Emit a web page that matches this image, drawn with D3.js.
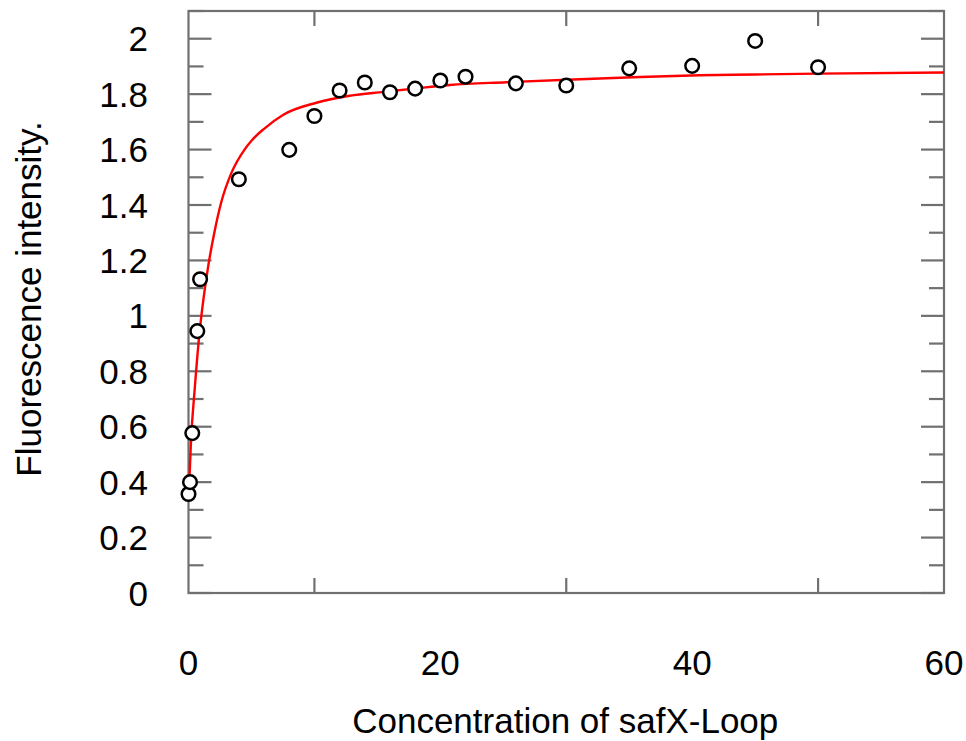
<!DOCTYPE html>
<html>
<head>
<meta charset="utf-8">
<script src="https://cdn.jsdelivr.net/npm/d3@7/dist/d3.min.js"></script>
<style>
  html, body { margin: 0; padding: 0; background: #ffffff; }
  svg { display: block; }
  text { font-family: "Liberation Sans", Arial, sans-serif; fill: #000; }
</style>
</head>
<body>
<svg id="chart" width="966" height="741"></svg>
<script>
// Measured data points
const concentration = [0, 0.12, 0.3, 0.7, 0.92, 4, 8, 10, 12, 14, 16, 18, 20, 22, 26, 30, 35, 40, 45, 50];
const intensity = [0.357, 0.40, 0.577, 0.945, 1.132, 1.493, 1.599, 1.721, 1.813, 1.842, 1.807, 1.820, 1.849, 1.863, 1.839, 1.831, 1.893, 1.902, 1.992, 1.897];

// Fitted curve
const fitX = [0, 0.2, 0.5, 0.9, 1.2, 1.55, 2.05, 2.6, 3.4, 4.45, 5.0, 6.0, 7.5, 10.15, 12.8, 15.5, 18.1, 20.75, 25.25, 30.55, 35.85, 40.6, 45, 50, 60];
const fitY = [0.33, 0.55, 0.74, 0.95, 1.065, 1.175, 1.30, 1.41, 1.515, 1.60, 1.632, 1.675, 1.725, 1.769, 1.794, 1.808, 1.821, 1.833, 1.843, 1.853, 1.862, 1.868, 1.871, 1.874, 1.878];

// Ticks
const xTickLabels = [0, 20, 40, 60];
const xMinorTicks = [10, 30, 50];
const yMajorTicks = [0, 0.2, 0.4, 0.6, 0.8, 1, 1.2, 1.4, 1.6, 1.8, 2];
const yMinorTicks = [0.1, 0.3, 0.5, 0.7, 0.9, 1.1, 1.3, 1.5, 1.7, 1.9, 2.1];

const xTitle = "Concentration of safX-Loop";
const yTitle = "Fluorescence intensity.";

const L = 188.5, R = 944, T = 11, B = 593;
const axisColor = "#707070";

const x = d3.scaleLinear().domain([0, 60]).range([L, R]);
const y = d3.scaleLinear().domain([0, 2.1]).range([B, T]);

const svg = d3.select("#chart");

// Tick marks (inside)
const ticks = svg.append("g").attr("stroke", axisColor).attr("stroke-width", 2.2);
yMajorTicks.forEach(v => {
  ticks.append("line").attr("x1", L).attr("x2", L + 23).attr("y1", y(v)).attr("y2", y(v));
  ticks.append("line").attr("x1", R).attr("x2", R - 23).attr("y1", y(v)).attr("y2", y(v));
});
yMinorTicks.forEach(v => {
  ticks.append("line").attr("x1", L).attr("x2", L + 15).attr("y1", y(v)).attr("y2", y(v));
  ticks.append("line").attr("x1", R).attr("x2", R - 15).attr("y1", y(v)).attr("y2", y(v));
});
xMinorTicks.forEach(v => {
  ticks.append("line").attr("x1", x(v)).attr("x2", x(v)).attr("y1", B).attr("y2", B - 15);
  ticks.append("line").attr("x1", x(v)).attr("x2", x(v)).attr("y1", T).attr("y2", T + 15);
});

// Frame
svg.append("rect")
  .attr("x", L).attr("y", T).attr("width", R - L).attr("height", B - T)
  .attr("fill", "none").attr("stroke", axisColor).attr("stroke-width", 2.2);

// Tick labels
svg.append("g").selectAll("text").data(yMajorTicks).join("text")
  .attr("x", 148).attr("y", d => y(d)).attr("dy", "0.36em")
  .attr("text-anchor", "end").attr("font-size", 35)
  .text(d => d3.format("")(+d.toFixed(1)));

svg.append("g").selectAll("text").data(xTickLabels).join("text")
  .attr("x", d => x(d)).attr("y", 674.5)
  .attr("text-anchor", "middle").attr("font-size", 35)
  .text(d => d);

// Axis titles
svg.append("text").attr("x", (L + R) / 2 - 1).attr("y", 733)
  .attr("text-anchor", "middle").attr("font-size", 35).text(xTitle);
svg.append("text").attr("transform", "translate(41,299) rotate(-90)")
  .attr("text-anchor", "middle").attr("font-size", 35).text(yTitle);

// Fitted curve
const fitData = fitX.map((v, i) => [v, fitY[i]]);
svg.append("path").datum(fitData)
  .attr("fill", "none").attr("stroke", "#ff0000").attr("stroke-width", 2.4)
  .attr("d", d3.line().x(d => x(d[0])).y(d => y(d[1])).curve(d3.curveMonotoneX));

// Points
const pts = concentration.map((v, i) => [v, intensity[i]]);
svg.append("g").selectAll("circle").data(pts).join("circle")
  .attr("cx", d => x(d[0])).attr("cy", d => y(d[1])).attr("r", 6.8)
  .attr("fill", "#fff").attr("stroke", "#000").attr("stroke-width", 2.5);
</script>
</body>
</html>
